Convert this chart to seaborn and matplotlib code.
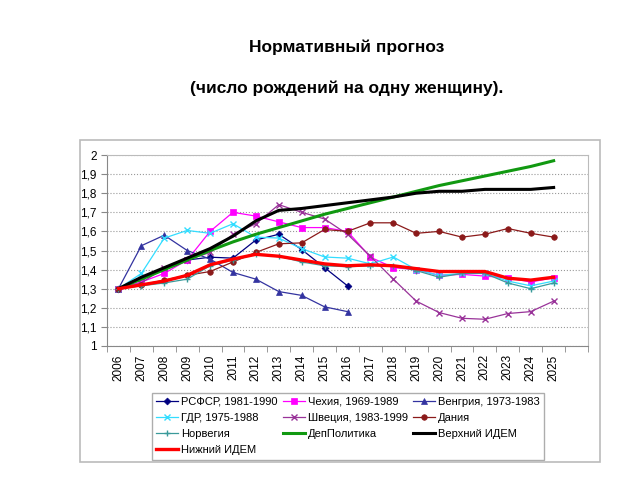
import numpy as np
import pandas as pd
import matplotlib
matplotlib.use('Agg')
import matplotlib.pyplot as plt
import matplotlib.patches as mpatches
import seaborn as sns

years = list(range(2006, 2026))

rsfsr = [1.30, 1.35, 1.40, 1.45, 1.465, 1.46, 1.555, 1.585, 1.505, 1.41, 1.315]
czech = [1.30, 1.335, 1.38, 1.45, 1.60, 1.70, 1.68, 1.65, 1.62, 1.62, 1.60, 1.465, 1.41,
         1.40, 1.37, 1.375, 1.366, 1.357, 1.335, 1.357]
hungary = [1.30, 1.525, 1.58, 1.50, 1.455, 1.385, 1.35, 1.285, 1.265, 1.205, 1.18]
gdr = [1.30, 1.38, 1.565, 1.605, 1.59, 1.64, 1.57, 1.565, 1.51, 1.466, 1.46, 1.43, 1.466,
       1.40, 1.37, 1.38, 1.38, 1.34, 1.315, 1.34]
sweden = [1.30, 1.33, 1.41, 1.45, 1.49, 1.585, 1.64, 1.74, 1.70, 1.665, 1.585, 1.47, 1.35,
          1.235, 1.175, 1.145, 1.14, 1.17, 1.18, 1.235]
denmark = [1.30, 1.32, 1.345, 1.37, 1.39, 1.44, 1.49, 1.535, 1.54, 1.61, 1.60, 1.645, 1.645,
           1.59, 1.60, 1.57, 1.585, 1.615, 1.59, 1.57]
norway = [1.30, 1.315, 1.33, 1.35, 1.42, 1.45, 1.48, 1.47, 1.44, 1.42, 1.415, 1.42, 1.42,
          1.395, 1.36, 1.38, 1.38, 1.33, 1.30, 1.33]
deppol = [1.30, 1.35, 1.40, 1.45, 1.50, 1.545, 1.585, 1.62, 1.655, 1.69, 1.72, 1.75, 1.78,
          1.81, 1.84, 1.865, 1.89, 1.915, 1.94, 1.97]
upper = [1.30, 1.36, 1.41, 1.46, 1.51, 1.575, 1.655, 1.71, 1.72, 1.735, 1.75, 1.765, 1.78,
         1.80, 1.81, 1.81, 1.82, 1.82, 1.82, 1.83]
lower = [1.30, 1.32, 1.34, 1.37, 1.425, 1.455, 1.48, 1.47, 1.45, 1.43, 1.42, 1.425, 1.42,
         1.405, 1.39, 1.39, 1.39, 1.355, 1.345, 1.36]

series = [
    ('РСФСР, 1981-1990', rsfsr, '#000080', 'D', 3.5, 0.9),
    ('Чехия, 1969-1989', czech, '#FF00FF', 's', 4.5, 0.9),
    ('Венгрия, 1973-1983', hungary, '#3333A0', '^', 4.5, 0.9),
    ('ГДР, 1975-1988', gdr, '#33DDFF', 'x', 5, 0.9),
    ('Швеция, 1983-1999', sweden, '#993399', 'x', 5, 0.9),
    ('Дания', denmark, '#8B1A1A', 'o', 4, 0.9),
    ('Норвегия', norway, '#3A9A9A', '+', 5, 0.9),
    ('ДепПолитика', deppol, '#119911', None, 0, 2.2),
    ('Верхний ИДЕМ', upper, '#000000', None, 0, 2.2),
    ('Нижний ИДЕМ', lower, '#FF0000', None, 0, 2.4),
]

plt.rcParams['font.family'] = ['Liberation Sans', 'DejaVu Sans']

fig = plt.figure(figsize=(6.4, 4.8), dpi=100)
fig.patches.append(mpatches.Rectangle((80 / 640, 1 - 462 / 480), 520 / 640, 322 / 480,
                                      transform=fig.transFigure, fill=False,
                                      edgecolor='#BBBBBB', linewidth=1.2))
ax = fig.add_axes([107 / 640, 1 - 346 / 480, 481 / 640, 191 / 480])

for name, vals, color, marker, ms, lw in series:
    df = pd.DataFrame({'year': years[:len(vals)], 'value': vals})
    sns.lineplot(data=df, x='year', y='value', ax=ax, color=color, marker=marker,
                 markersize=ms, linewidth=lw, markeredgecolor=color,
                 markeredgewidth=1.0 if marker in ('x', '+') else 0.5, label=name,
                 zorder=3 if marker is None else 2)

ax.set_xlim(2005.5, 2026.5)
ax.set_ylim(1, 2)
ax.set_yticks(np.arange(1, 2.01, 0.1))
ax.set_yticklabels([f'{v:.1f}'.replace('.', ',').replace(',0', '') for v in np.arange(1, 2.01, 0.1)],
                   fontsize=8.5)
ax.set_xticks(years)
ax.set_xticklabels([str(y) for y in years], rotation=90, fontsize=8.5)
ax.set_xticks(np.arange(2005.5, 2026.6, 1), minor=True)
ax.tick_params(axis='x', which='major', length=0, pad=6)
ax.tick_params(axis='x', which='minor', length=4, color='#888888')
ax.tick_params(axis='y', length=4, color='#888888')
ax.yaxis.grid(True, linestyle=':', color='#999999', linewidth=0.8)
ax.set_axisbelow(True)
ax.set_xlabel('')
ax.set_ylabel('')
for s in ['top', 'right']:
    ax.spines[s].set_color('#BBBBBB')
for s in ['left', 'bottom']:
    ax.spines[s].set_color('#888888')

h, l = ax.get_legend_handles_labels()
idx = {lab: i for i, lab in enumerate(l)}
order = ['РСФСР, 1981-1990', 'ГДР, 1975-1988', 'Норвегия', 'Нижний ИДЕМ',
         'Чехия, 1969-1989', 'Швеция, 1983-1999', 'ДепПолитика',
         'Венгрия, 1973-1983', 'Дания', 'Верхний ИДЕМ']
ax.legend([h[idx[o]] for o in order], order, ncol=3, fontsize=8,
          loc='upper left', bbox_to_anchor=(146 / 640, 1 - 387 / 480),
          bbox_transform=fig.transFigure, frameon=True, fancybox=False,
          edgecolor='#999999', handlelength=2.0, columnspacing=0.45,
          labelspacing=0.55, borderpad=0.4, handletextpad=0.25)

fig.text(347 / 640, 1 - 47 / 480, 'Нормативный прогноз', ha='center', va='center',
         fontsize=12.5, fontweight='bold')
fig.text(347 / 640, 1 - 88 / 480, '(число рождений на одну женщину).', ha='center',
         va='center', fontsize=12.5, fontweight='bold')

fig.savefig('out.png', dpi=100)
